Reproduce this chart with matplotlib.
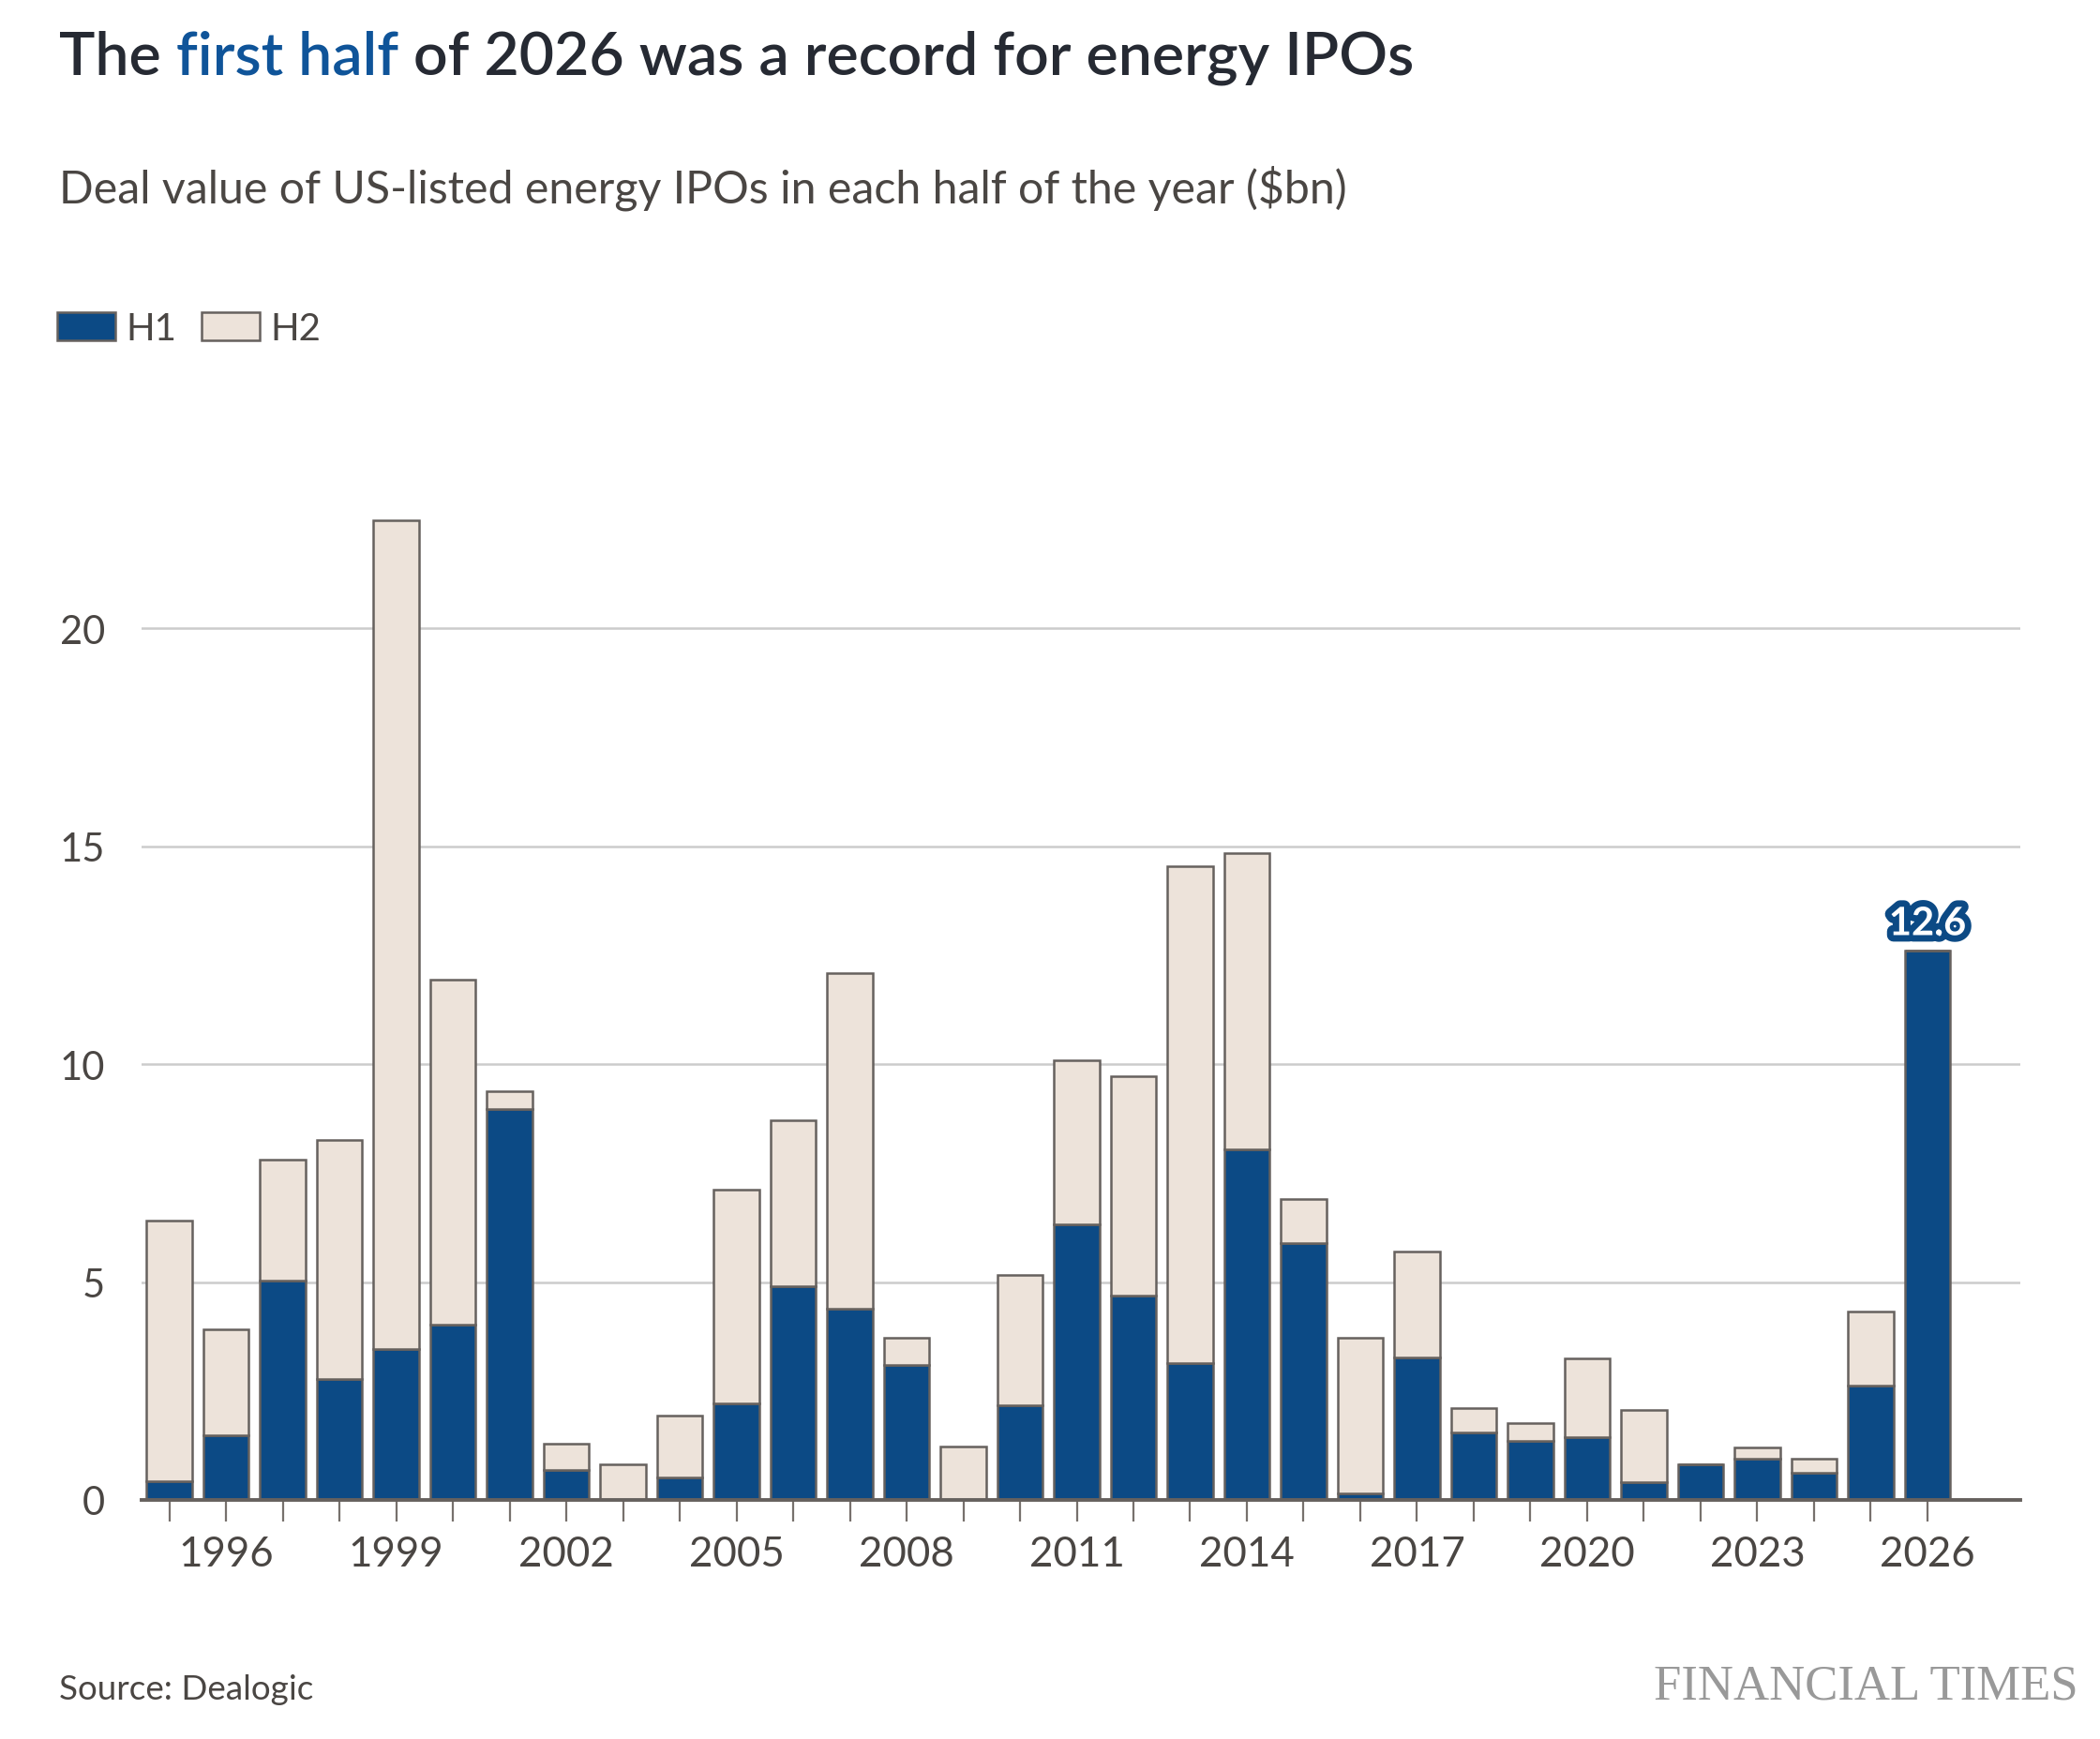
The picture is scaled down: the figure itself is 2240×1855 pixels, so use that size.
import numpy as np
import matplotlib
matplotlib.use("Agg")
import matplotlib.pyplot as plt
import matplotlib.patheffects as pe

plt.rcParams['font.family'] = ['Lato', 'DejaVu Sans']

# Datos ($bn)
years = list(range(1995, 2027))
h1 = [0.42, 1.48, 5.03, 2.77, 3.47, 4.03, 8.97, 0.68, 0.00, 0.52,
      2.21, 4.90, 4.39, 3.10, 0.00, 2.17, 6.33, 4.68, 3.13, 8.04,
      5.89, 0.14, 3.27, 1.55, 1.36, 1.43, 0.40, 0.81, 0.95, 0.62,
      2.62, 12.6]
h2 = [5.98, 2.44, 2.77, 5.48, 19.01, 7.90, 0.40, 0.60, 0.82, 1.41,
      4.91, 3.82, 7.70, 0.63, 1.23, 2.99, 3.76, 5.05, 11.41, 6.81,
      1.01, 3.58, 2.43, 0.55, 0.41, 1.81, 1.66, 0.00, 0.25, 0.33,
      1.71, 0.00]
label_years = [1996, 1999, 2002, 2005, 2008, 2011, 2014, 2017, 2020, 2023, 2026]
y_ticks = [0, 5, 10, 15, 20]

# Colores
azul = '#0c4a85'
beige = '#ede3da'
borde = '#66615e'
texto = '#4a4643'

fig = plt.figure(figsize=(11.2, 9.28), dpi=200)
ax = fig.add_axes([0.0674, 0.1374, 0.8947, 0.5762])

b1 = ax.bar(years, h1, width=0.8, color=azul, edgecolor=borde, linewidth=0.9, label='H1', zorder=3)
b2 = ax.bar(years, h2, width=0.8, bottom=h1, color=beige, edgecolor=borde, linewidth=0.9, label='H2', zorder=3)

ax.set_xlim(1994.51, 2027.64)
ax.set_ylim(0, 23)

# Ejes y rejilla
for s in ['top', 'right', 'left']:
    ax.spines[s].set_visible(False)
ax.spines['bottom'].set_color(borde)
ax.spines['bottom'].set_linewidth(1.4)
ax.spines['bottom'].set_zorder(4)
ax.set_yticks(y_ticks)
ax.set_yticklabels([str(v) for v in y_ticks])
ax.yaxis.grid(True, color='#cccccc', linewidth=0.9, zorder=0)
ax.tick_params(axis='y', length=0, pad=14, labelsize=15, labelcolor=texto)
ax.set_xticks(years)
ax.set_xticklabels([str(y) if y in label_years else '' for y in years])
ax.tick_params(axis='x', length=8.3, width=0.8, color='#77716d', pad=5,
               labelsize=15.8, labelcolor=texto)

# Etiqueta del ultimo valor
t = ax.annotate(f'{h1[-1]:.1f}', xy=(years[-1], h1[-1]), xytext=(0, 6),
                textcoords='offset points', ha='center', va='baseline',
                fontsize=15, fontweight='bold', color='white', zorder=5)
t.set_path_effects([pe.Stroke(linewidth=5, foreground=azul), pe.Normal()])

# Titulo con palabras en color
t1 = fig.text(63/2240, 1 - 80/1856, 'The', fontsize=23.2, fontweight='semibold',
              color='#262a33', va='baseline', ha='left')
t2 = ax.annotate(' first half', xy=(1, 0), xycoords=t1, va='bottom', ha='left',
                 fontsize=23.2, fontweight='semibold', color='#0f5499', annotation_clip=False)
t3 = ax.annotate(' of 2026 was a record for energy IPOs', xy=(1, 0), xycoords=t2,
                 va='bottom', ha='left', fontsize=23.2, fontweight='semibold',
                 color='#262a33', annotation_clip=False)

fig.text(63/2240, 1 - 217/1856, 'Deal value of US-listed energy IPOs in each half of the year ($bn)',
         fontsize=17.4, color=texto, va='baseline', ha='left')

# Leyenda
fig.legend(handles=[b1, b2], labels=['H1', 'H2'], loc='upper left',
           bbox_to_anchor=(61/2240, 1 - 333/1856), ncol=2, frameon=False,
           fontsize=14.5, handlelength=1.55, handleheight=0.8, handletextpad=0.27,
           columnspacing=0.66, borderpad=0, borderaxespad=0, labelcolor=texto)

fig.text(63/2240, 1 - 1813/1856, 'Source: Dealogic', fontsize=13.3, color=texto,
         va='baseline', ha='left')
fig.text(2217/2240, 1 - 1813/1856, 'FINANCIAL TIMES', fontsize=19, color='#999999',
         family='Liberation Serif', va='baseline', ha='right')

fig.savefig('out.png', dpi=200)
plt.close()
